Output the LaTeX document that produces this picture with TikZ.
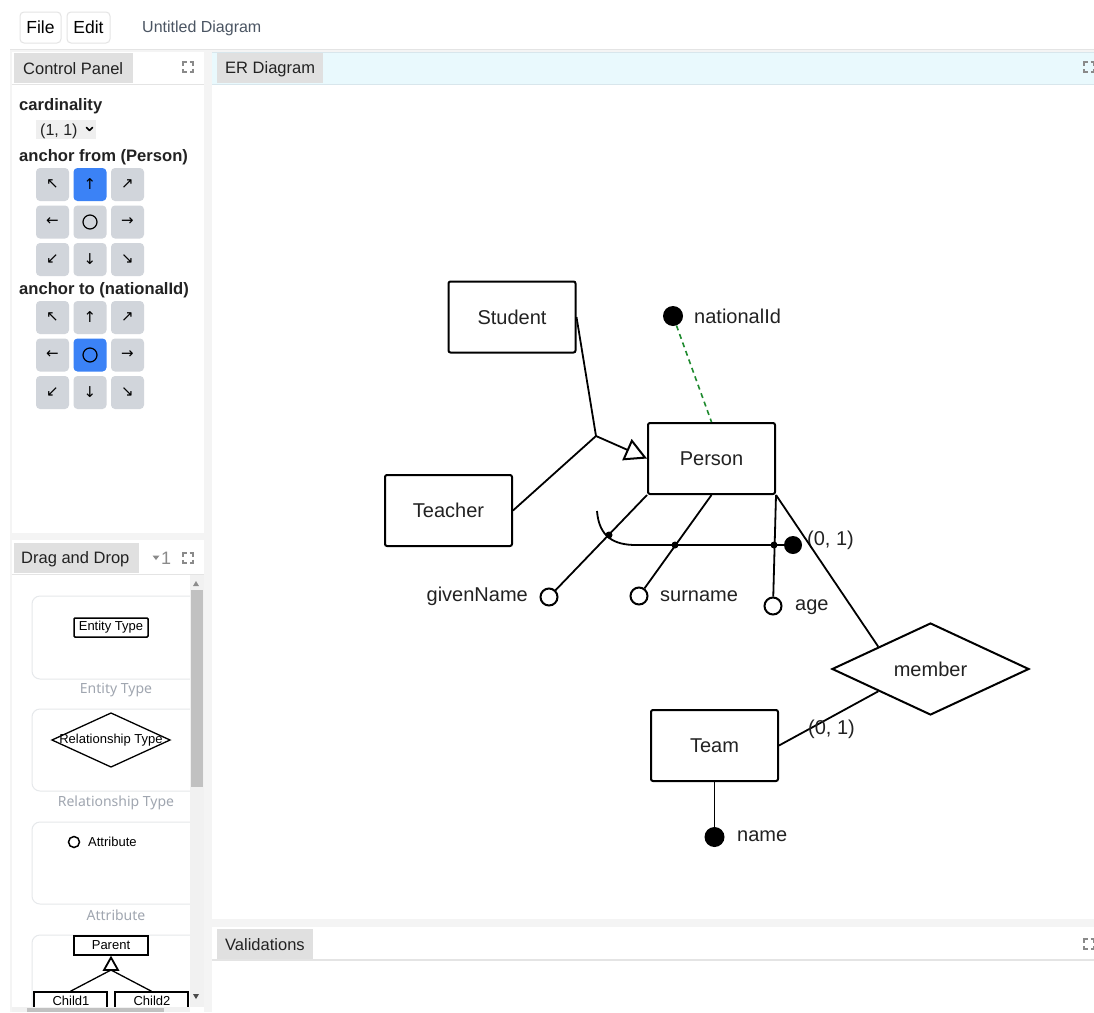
\documentclass[tikz,border=0pt]{standalone}
\usepackage{fontspec}
\setmainfont{Liberation Sans}
\newfontfamily\symfont{DejaVu Sans}
\newfontfamily\capfont{Noto Sans}
\usetikzlibrary{shapes.geometric,arrows.meta,calc}

\definecolor{gapgray}{HTML}{F4F4F4}
\definecolor{tabgray}{HTML}{E0E0E0}
\definecolor{linegray}{HTML}{E4E4E4}
\definecolor{hdrcyan}{HTML}{E9F9FD}
\definecolor{hdrline}{HTML}{D8E6EC}
\definecolor{btngray}{HTML}{D1D5DB}
\definecolor{btnblue}{HTML}{3B82F6}
\definecolor{capgray}{HTML}{A0A6B0}
\definecolor{titlegray}{HTML}{4B5563}
\definecolor{idgreen}{HTML}{1E8A2E}
\definecolor{icongray}{HTML}{8A8A8A}
\definecolor{scrolltrack}{HTML}{F1F1F1}
\definecolor{scrollthumb}{HTML}{C1C1C1}
\definecolor{cardborder}{HTML}{E6E8EB}
\definecolor{selgray}{HTML}{EFEFEF}
\definecolor{inktext}{HTML}{222222}

\newcommand{\fsz}[1]{\fontsize{#1}{#1}\selectfont}

\tikzset{
  ent/.style={draw, line width=2pt, rounded corners=2pt, minimum width=127pt, minimum height=71pt, inner sep=0pt, font=\fsz{20}, text=inktext},
  rel/.style={draw, diamond, line width=2pt, minimum width=197pt, minimum height=92pt, aspect=2.14, inner sep=0pt, font=\fsz{20}, text=inktext},
  lnk/.style={line width=1.8pt},
  attr/.style={circle, draw, line width=2pt, fill=white, minimum size=17pt, inner sep=0pt},
  keyattr/.style={circle, fill=black, minimum size=20pt, inner sep=0pt},
  jdot/.style={circle, fill=black, minimum size=7pt, inner sep=0pt},
  erlabel/.style={font=\fsz{20}, text=inktext, inner sep=0pt},
  tabbox/.style={fill=tabgray, draw=none},
  tabtext/.style={font=\fsz{16.5}, text=inktext, inner sep=0pt, anchor=west},
  bold/.style={font=\bfseries\fsz{16.6}, text=inktext, inner sep=0pt, anchor=west},
  btn/.style={fill=btngray, rounded corners=4pt, minimum width=33pt, minimum height=33pt, inner sep=0pt, font=\symfont\fsz{15}},
  btnon/.style={btn, fill=btnblue},
  card/.style={draw=cardborder, line width=1pt, rounded corners=8pt, fill=white},
  captxt/.style={font=\capfont\fsz{14}, text=capgray, inner sep=0pt},
  small/.style={font=\fsz{13}, text=black, inner sep=0pt},
  expicon/.pic={
    \draw[icongray, line width=1.3pt] (-5,-1.5)--(-5,-5)--(-1.5,-5) (1.5,-5)--(5,-5)--(5,-1.5)
      (5,1.5)--(5,5)--(1.5,5) (-1.5,5)--(-5,5)--(-5,1.5);
  }
}

\begin{document}
\begin{tikzpicture}[x=1pt,y=-1pt]
\useasboundingbox (0,0) rectangle (1094,1012);
\fill[white] (0,0) rectangle (1094,1012);

% ---------- top bar ----------
\fill[gapgray] (10,50) rectangle (1094,1012);
\draw[linegray, line width=1.5pt] (10,49.5) -- (1094,49.5);
\node[draw=linegray, line width=1pt, rounded corners=4pt, fill=white, minimum width=41pt, minimum height=31pt, inner sep=0pt, font=\fsz{17.5}, text=black] (file) at (40.5,27.5) {File};
\node[draw=linegray, line width=1pt, rounded corners=4pt, fill=white, minimum width=43pt, minimum height=31pt, inner sep=0pt, font=\fsz{17.5}, text=black] (edit) at (88.5,27.5) {Edit};
\node[anchor=west, inner sep=0pt, font=\fsz{16}, text=titlegray] (title) at (142,28.5) {Untitled Diagram};

% ---------- panels ----------
\fill[white] (12,52) rectangle (204,533);
\fill[white] (212,52) rectangle (1094,919);
\fill[white] (12,540) rectangle (204,1012);
\fill[white] (212,927) rectangle (1094,1012);

% Control panel header
\draw[linegray, line width=1pt] (12,84) -- (204,84);
\fill[tabbox] (14,53) rectangle (133,83);
\node[tabtext] (cptab) at (23,69) {Control Panel};
\pic at (188,67) {expicon};

% ER header
\fill[hdrcyan] (212,52) rectangle (1094,84);
\draw[hdrline, line width=1pt] (212,52) -- (1094,52) (212,84) -- (1094,84);
\fill[tabbox] (217,53) rectangle (323,83);
\node[tabtext] (ertab) at (225,69) {ER Diagram};
\pic at (1089,67) {expicon};

% Validations header
\draw[linegray, line width=1.5pt] (212,960) -- (1094,960);
\fill[tabbox] (217,929) rectangle (313,959);
\node[tabtext] (valtab) at (225,945) {Validations};
\pic at (1089,944) {expicon};

% Drag and drop header
\draw[linegray, line width=1pt] (12,574) -- (204,574);
\fill[tabbox] (14,543) rectangle (139,573);
\node[tabtext] (dndtab) at (21,559.5) {Drag and Drop};
\fill[icongray] (152.5,555.5) -- (159.5,555.5) -- (156,560) -- cycle;
\node[anchor=west, inner sep=0pt, font=\fsz{18}, text=icongray] (dndcount) at (161,558) {1};
\pic at (188,558) {expicon};

% ---------- control panel contents ----------
\node[bold] (cardlab) at (19,106) {cardinality};
\fill[selgray] (36,120) rectangle (96,139);
\node[anchor=west, inner sep=0pt, font=\fsz{16}, text=inktext] (selval) at (40,131) {(1, 1)};
\draw[black, line width=1.6pt, line cap=round, line join=round] (86.5,127.5) -- (89.5,130.5) -- (92.5,127.5);
\node[bold] (fromlab) at (19,157) {anchor from (Person)};
\node[bold] (tolab) at (19,290) {anchor to (nationalId)};

% grid 1
\foreach \c/\r/\s [count=\i] in {0/0/↖,2/0/↗,0/1/←,2/1/→,0/2/↙,1/2/↓,2/2/↘} {
  \node[btn] (fa\i) at ({52.5+37.5*\c},{184.5+37.5*\r}) {\s};
}
\node[btnon] (faup) at (90,184.5) {↑};
\node[btn] (fac) at (90,222) {};
\node[circle, draw, line width=1.2pt, minimum size=14pt, inner sep=0pt] (facirc) at (90,222) {};
% grid 2
\foreach \c/\r/\s [count=\i] in {0/0/↖,1/0/↑,2/0/↗,0/1/←,2/1/→,0/2/↙,1/2/↓,2/2/↘} {
  \node[btn] (ta\i) at ({52.5+37.5*\c},{317.5+37.5*\r}) {\s};
}
\node[btnon] (tac) at (90,355) {};
\node[circle, draw, line width=1.2pt, minimum size=14pt, inner sep=0pt] (tacirc) at (90,355) {};

% ---------- drag and drop cards ----------
\begin{scope}
\clip (12,575) rectangle (190,1006.5);
\draw[card] (32,596) rectangle (200,679);
\draw[card] (32,709) rectangle (200,791);
\draw[card] (32,822) rectangle (200,904);
\draw[card] (32,935) rectangle (200,1030);

\node[draw, line width=1.5pt, rounded corners=1pt, minimum width=74pt, minimum height=19pt, inner sep=0pt, small] (etbox) at (111,627.5) {Entity Type};
\draw[line width=1.3pt] (52,740) -- (111,713) -- (170,740) -- (111,767) -- cycle;
\node[small] (rtbox) at (111,740) {Relationship Type};
\node[circle, draw, line width=1.5pt, minimum size=11pt, inner sep=0pt] (atcirc) at (74,842) {};
\node[small, anchor=west] (attext) at (88,842) {Attribute};

\node[draw, line width=1.5pt, minimum width=74pt, minimum height=19pt, inner sep=0pt, small] (parent) at (111,945.5) {Parent};
\node[draw, line width=1.5pt, minimum width=73pt, minimum height=22pt, inner sep=0pt, small] (child1) at (70.5,1003) {};
\node[draw, line width=1.5pt, minimum width=73pt, minimum height=22pt, inner sep=0pt, small] (child2) at (151.5,1003) {};
\node[small] (c1t) at (71,1001) {Child1};
\node[small] (c2t) at (152,1001) {Child2};
\coordinate (isasmall) at (111,970);
\draw[line width=1.3pt] (child1.north) -- (isasmall) -- (child2.north);
\draw[line width=1.8pt, fill=white] (111,957.5) -- (118,970) -- (104,970) -- cycle;
\end{scope}
\node[captxt] (cap1) at (116,690) {Entity Type};
\node[captxt] (cap2) at (116,803) {Relationship Type};
\node[captxt] (cap3) at (116,915) {Attribute};

% scrollbars
\fill[scrolltrack] (190,575) rectangle (204,1006.5);
\fill[scrollthumb] (191,590) rectangle (203,787);
\fill[black!45] (193,586) -- (199,586) -- (196,581) -- cycle;
\fill[black!70] (193,994) -- (199,994) -- (196,999) -- cycle;
\fill[scrolltrack] (12,1006.5) rectangle (190,1012);
\fill[scrollthumb] (27,1007.5) rectangle (164,1012);

% ---------- ER diagram ----------
\node[ent] (student) at (512,317) {Student};
\node[ent] (person) at (711.5,458.5) {Person};
\node[ent] (teacher) at (448.5,510.5) {Teacher};
\node[ent] (team) at (714.5,745.5) {Team};
\node[rel] (member) at (930.5,669) {member};

\node[keyattr] (natid) at (673,316) {};
\node[erlabel, anchor=west] (natidl) at (694,316) {nationalId};
\node[keyattr] (namedot) at (714.5,837) {};
\node[erlabel, anchor=west] (namel) at (737,836) {name};

\coordinate (isa) at (596,436);
\draw[lnk] (student.east) -- (isa);
\draw[lnk] (teacher.east) -- (isa);
\draw[lnk, -{Triangle[open, length=22pt, width=23pt, line width=2pt]}] (isa) -- (person.west);

\draw[idgreen, line width=1.6pt, dash pattern=on 5pt off 4pt] (natid) -- (person.north);

\node[attr] (gn) at (549,597) {};
\node[attr] (sn) at (639,596) {};
\node[attr] (age) at (773,606) {};
\node[erlabel, anchor=east] (gnl) at (528,596) {givenName};
\node[erlabel, anchor=west] (snl) at (660,596) {surname};
\node[erlabel, anchor=west] (agel) at (795,607.5) {age};

\draw[lnk] (person.south west) -- (gn);
\draw[lnk] (person.south) -- (sn);
\draw[lnk] (person.south east) -- (age);

% composite identifier
\node[keyattr, minimum size=18pt] (cid) at (793,545) {};
\coordinate (cidstart) at (597,511);
\coordinate (cidbend) at (636,545);
\draw[lnk] (cidstart) .. controls (599,537) and (614,545) .. (cidbend) -- (cid);
\node[jdot] (j1) at (609,535) {};
\node[jdot] (j2) at (675,545) {};
\node[jdot] (j3) at (774,545) {};
\node[erlabel, anchor=west] (card1) at (807,540) {(0, 1)};

% relationship
\draw[lnk] (person.south east) -- ($(member.west)!0.475!(member.north)$);
\draw[lnk] (team.east) -- ($(member.west)!0.475!(member.south)$);
\node[erlabel, anchor=west] (card2) at (808,729) {(0, 1)};
\draw[lnk] (team.south) -- (namedot);

\end{tikzpicture}
\end{document}
